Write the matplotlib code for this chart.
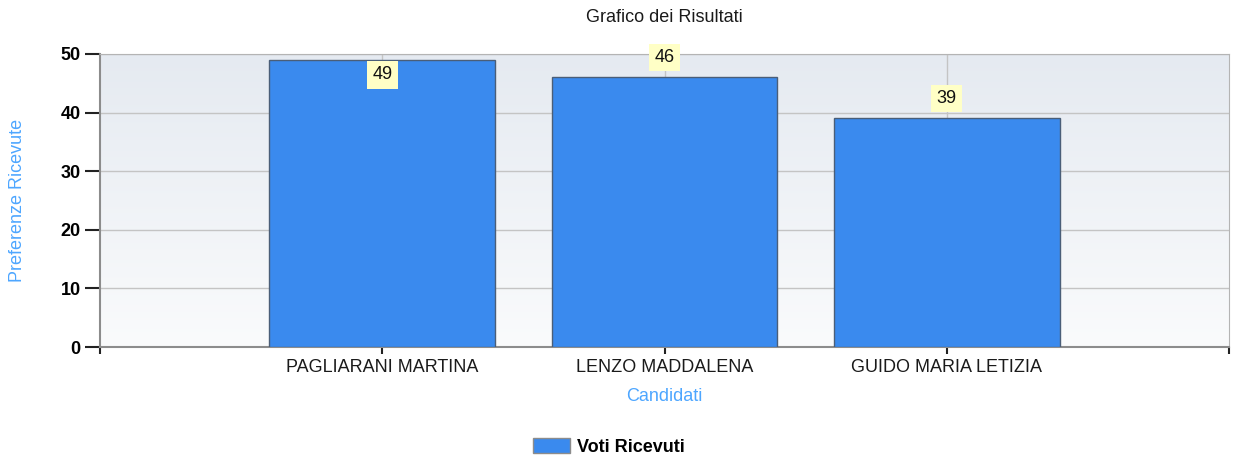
import numpy as np
import matplotlib
matplotlib.use("Agg")
import matplotlib.pyplot as plt
from matplotlib.patches import Patch

plt.rcParams["font.family"] = ["Liberation Sans", "DejaVu Sans"]

candidati = ["PAGLIARANI MARTINA", "LENZO MADDALENA", "GUIDO MARIA LETIZIA"]
voti = [49, 46, 39]
serie_nome = "Voti Ricevuti"
y_ticks = [0, 10, 20, 30, 40, 50]

bar_color = "#3A8AEE"
label_blue = "#4DA6FF"
fs = 13

fig = plt.figure(figsize=(12.34, 4.61), dpi=100)
ax = fig.add_axes([100 / 1234, 1 - 347 / 461, 1129 / 1234, 293 / 461])

# gradient background of the plot area
grad = np.linspace(0, 1, 256).reshape(-1, 1)
top = np.array([0xE5, 0xEA, 0xF1]) / 255
bot = np.array([0xFA, 0xFB, 0xFC]) / 255
img = top + (bot - top) * grad[..., None]
ax.imshow(img, extent=[0, 1, 0, 1], transform=ax.transAxes, aspect="auto", zorder=0)

x = np.arange(1, len(candidati) + 1)
ax.bar(x, voti, width=0.8, color=bar_color, edgecolor="#4A5E78", linewidth=1.0, zorder=3)

ax.set_xlim(0, len(candidati) + 1)
ax.set_ylim(0, 50)
ax.set_yticks(y_ticks)
ax.set_xticks(x)
ax.set_xticklabels(candidati, fontsize=fs, color="#1a1a1a")
ax.set_xticks([0, len(candidati) + 1], minor=True)
for lab in ax.get_yticklabels():
    lab.set_fontweight("bold")
    lab.set_fontsize(fs)
ax.tick_params(axis="y", length=11, width=1.5, color="#222222", pad=3)
ax.tick_params(axis="x", which="major", length=5, width=1.5, color="#222222", pad=4)
ax.tick_params(axis="x", which="minor", length=5, width=1.5, color="#222222")

ax.grid(True, axis="both", which="major", color="#C4C4C4", linewidth=1.0, zorder=1)
ax.set_axisbelow(True)

for side in ["top", "right"]:
    ax.spines[side].set_color("#B4B4B4")
for side in ["left", "bottom"]:
    ax.spines[side].set_color("#8C8C8C")
    ax.spines[side].set_linewidth(1.5)

# value labels
for xi, v in zip(x, voti):
    above = v + 20 * 50 / 293 < 50
    ax.annotate(str(v), xy=(xi, v), xytext=(0, 20 if above else -15),
                textcoords="offset pixels", ha="center", va="center",
                fontsize=fs, color="#111111", zorder=5,
                bbox=dict(boxstyle="square,pad=0.3", facecolor="#FFFFC6", edgecolor="none"))

ax.set_title("Grafico dei Risultati", fontsize=fs, color="#1a1a1a", pad=23)
ax.set_xlabel("Candidati", fontsize=fs, color=label_blue)
ax.xaxis.set_label_coords(0.5, -0.17)
ax.xaxis.label.set_va("center")
ax.set_ylabel("Preferenze Ricevute", fontsize=fs, color=label_blue)
ax.yaxis.set_label_coords(-0.0735, 0.5)
ax.yaxis.label.set_va("center")

handle = Patch(facecolor=bar_color, edgecolor="#8C8C8C", label=serie_nome)
leg = fig.legend(handles=[handle], loc="center", bbox_to_anchor=(609 / 1234, 1 - 447 / 461),
                 frameon=False, prop={"size": fs, "weight": "bold"},
                 handlelength=2.0, handleheight=0.85, handletextpad=0.4)

fig.savefig("out.png", dpi=100)
